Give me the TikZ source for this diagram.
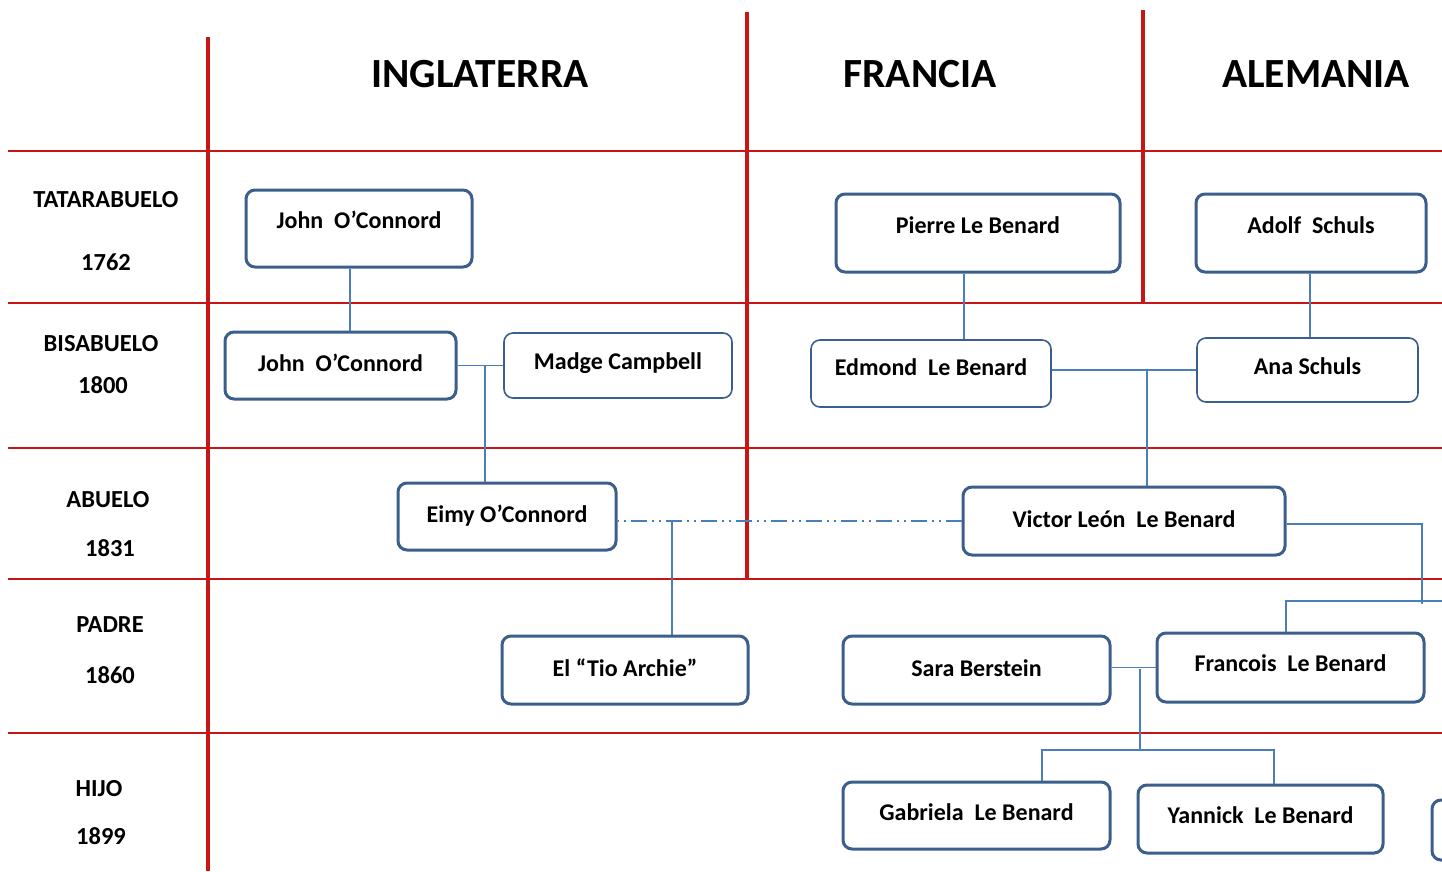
\documentclass[tikz,border=0pt]{standalone}
\usepackage{fontspec}
\setmainfont{Carlito}
\usetikzlibrary{calc}
\definecolor{gridred}{RGB}{200,22,22}
\definecolor{boxblue}{RGB}{59,94,140}
\definecolor{linkblue}{RGB}{74,126,187}
\tikzset{
  hline/.style={draw=gridred, line width=2.4pt},
  vline/.style={draw=gridred, line width=3.4pt},
  hdr/.style={font=\bfseries\fontsize{41.5}{44}\selectfont, inner sep=0pt},
  rowlab/.style={font=\bfseries\fontsize{24.5}{26}\selectfont, inner sep=0pt},
  pbox/.style={draw=boxblue, line width=3pt, rounded corners=9pt, fill=white,
    font=\bfseries\fontsize{24}{26}\selectfont, inner sep=0pt, text height=18pt, text depth=6pt},
  tbox/.style={pbox, line width=1.6pt},
  conn/.style={draw=linkblue, line width=1.5pt},
  dashdot2/.style={conn, dash pattern=on 16pt off 5pt on 2pt off 5pt on 2pt off 5pt}
}
\begin{document}
\begin{tikzpicture}[x=1pt,y=-1pt]
\useasboundingbox (0,0) rectangle (1442,871);
\clip (0,0) rectangle (1442,871);
\fill[white] (0,0) rectangle (1442,871);
% grid
\foreach \yy in {151,303,448,579,733} \draw[hline] (8,\yy) -- (1442,\yy);
\draw[vline] (208,37) -- (208,871);
\draw[vline] (747,12) -- (747,579);
\draw[vline] (1143,10) -- (1143,303);
% headers
\node[hdr] (hing) at (480,74) {INGLATERRA};
\node[hdr] (hfra) at (920,74) {FRANCIA};
\node[hdr] (hale) at (1316,74) {ALEMANIA};
% row labels
\node[rowlab] (r1) at (106,200) {TATARABUELO};
\node[rowlab] (r1y) at (106,262) {1762};
\node[rowlab] (r2) at (101,344) {BISABUELO};
\node[rowlab] (r2y) at (103,385) {1800};
\node[rowlab] (r3) at (108,500) {ABUELO};
\node[rowlab] (r3y) at (110,548) {1831};
\node[rowlab] (r4) at (110,625) {PADRE};
\node[rowlab] (r4y) at (110,675) {1860};
\node[rowlab] (r5) at (99,789) {HIJO};
\node[rowlab] (r5y) at (101,836) {1899};
% person boxes
\node[pbox, minimum width=226pt, minimum height=77pt, text depth=18pt] (john1) at (359,228.5) {John\ \ O’Connord};
\node[pbox, minimum width=231pt, minimum height=67pt] (john2) at (340.5,365.5) {John\ \ O’Connord};
\node[tbox, minimum width=228pt, minimum height=65pt, text depth=11pt] (madge) at (618,365.5) {Madge Campbell};
\node[pbox, minimum width=218pt, minimum height=67pt] (eimy) at (507,516.5) {Eimy O’Connord};
\node[pbox, minimum width=246pt, minimum height=68pt] (archie) at (625,670) {El “Tio Archie”};
\node[pbox, minimum width=284pt, minimum height=78pt, text depth=17pt] (pierre) at (978,233) {Pierre Le Benard};
\node[pbox, minimum width=230pt, minimum height=78pt, text depth=17pt] (adolf) at (1311,233) {Adolf\ \ Schuls};
\node[tbox, minimum width=240pt, minimum height=67pt, text depth=14pt] (edmond) at (931,373.5) {Edmond\ \ Le Benard};
\node[tbox, minimum width=221pt, minimum height=64pt, text depth=10pt] (ana) at (1307.5,370) {Ana Schuls};
\node[pbox, minimum width=322pt, minimum height=68pt] (victor) at (1124,521) {Victor León\ \ Le Benard};
\node[pbox, minimum width=267pt, minimum height=68pt] (sara) at (976.5,670) {Sara Berstein};
\node[pbox, minimum width=267pt, minimum height=69pt, text depth=11pt] (francois) at (1290.5,667.5) {Francois\ \ Le Benard};
\node[pbox, minimum width=267pt, minimum height=67pt, text depth=9pt] (gabriela) at (976.5,815.5) {Gabriela\ \ Le Benard};
\node[pbox, minimum width=245pt, minimum height=68pt, text depth=9pt] (yannick) at (1260.5,819) {Yannick\ \ Le Benard};
\node[pbox, minimum width=100pt, minimum height=60pt] (cutbox) at (1482,830) {};
% connectors
\draw[conn] ([xshift=-9pt]john1.south) -- ([xshift=-9pt]john1.south |- john2.north);
\draw[conn] (john2.east) -- (madge.west);
\coordinate (jm) at (485,365.5);
\draw[conn] (jm) -- (jm |- eimy.north);
\draw[conn] ([xshift=-14pt]pierre.south) -- ([xshift=-14pt]pierre.south |- edmond.north);
\draw[conn] ([xshift=-1pt]adolf.south) -- ([xshift=-1pt]adolf.south |- ana.north);
\draw[conn] (ana.west) -- (ana.west -| edmond.east);
\coordinate (ea) at (1147,370);
\draw[conn] (ea) -- (ea |- victor.north);
\draw[dashdot2] (victor.west) -- (victor.west -| eimy.east);
\coordinate (ev) at (672,521);
\draw[conn] (ev) -- (ev |- archie.north);
\coordinate (vr) at (1422,604);
\draw[conn] ([yshift=-3pt]victor.east) -| (vr);
\coordinate (fr) at (1442,601);
\draw[conn] (fr) -| ([xshift=-4.5pt]francois.north);
\draw[conn] (sara.east |- francois.west) -- (francois.west);
\coordinate (sf) at (1140,669);
\coordinate (kids) at (1140,750);
\draw[conn] (sf) -- (kids);
\draw[conn] ([xshift=65.5pt]gabriela.north) |- (kids) -| ([xshift=13.5pt]yannick.north);
\end{tikzpicture}
\end{document}
